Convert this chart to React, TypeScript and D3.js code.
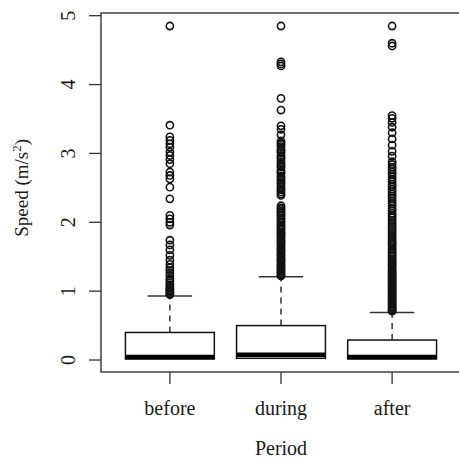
import React from 'react';
import * as d3 from 'd3';

// periods on the x axis
const periods = ['before', 'during', 'after'];

// box statistics per period (m/s²)
const q1 = [0.015, 0.025, 0.015];
const medians = [0.045, 0.075, 0.045];
const q3 = [0.4, 0.5, 0.29];
const upperWhisker = [0.93, 1.21, 0.69];

// outliers
const beforeOutliers = [
  4.85, 3.41, 3.24, 3.19, 3.14, 3.09, 3.02, 2.97, 2.91, 2.85, 2.73, 2.68, 2.63, 2.51, 2.34,
  2.1, 2.05, 2.0, 1.96, 1.74, 1.67, 1.6, 1.52, 1.45, 1.39, 1.34, 1.3, 1.26, 1.22, 1.18,
  1.15, 1.12, 1.09, 1.06, 1.04, 1.02, 1.0, 0.98, 0.96, 0.95,
];
const duringOutliers = [
  4.85, 4.33, 4.3, 4.27, 3.8, 3.63, 3.4, 3.35, 3.27,
  3.18, 3.15, 3.13, 3.1, 3.06, 3.04, 3.01, 2.97, 2.94, 2.92, 2.88, 2.85, 2.82, 2.8, 2.76,
  2.73, 2.71, 2.67, 2.64, 2.61, 2.58, 2.56, 2.52, 2.49, 2.47, 2.44, 2.41, 2.39,
  2.24, 2.21, 2.19, 2.16, 2.14, 2.11, 2.09, 2.06, 2.04, 2.01, 1.99, 1.96, 1.94, 1.91,
  1.89, 1.86, 1.84, 1.82, 1.79, 1.77, 1.74, 1.72, 1.7, 1.67, 1.65, 1.62, 1.6, 1.58,
  1.55, 1.53, 1.51, 1.48, 1.46, 1.44, 1.42, 1.39, 1.37, 1.35, 1.33, 1.31, 1.29, 1.27,
  1.25, 1.23, 1.22,
];
const afterOutliers = [
  4.85, 4.6, 4.56, 3.55, 3.51, 3.45, 3.38, 3.3, 3.21, 3.12, 3.03, 2.96,
  2.88, 2.84, 2.8, 2.77, 2.73, 2.7, 2.66, 2.62, 2.59, 2.55, 2.52, 2.48, 2.45, 2.41,
  2.38, 2.34, 2.31, 2.27, 2.24, 2.2, 2.17, 2.13, 2.1, 2.07, 2.03, 2.0, 1.97, 1.94,
  1.91, 1.88, 1.85, 1.82, 1.79, 1.76, 1.73, 1.7, 1.68, 1.65, 1.62, 1.6, 1.57, 1.55,
  1.52, 1.5, 1.47, 1.45, 1.43, 1.4, 1.38, 1.36, 1.33, 1.31, 1.29, 1.27, 1.25, 1.23,
  1.21, 1.19, 1.17, 1.15, 1.13, 1.11, 1.09, 1.07, 1.05, 1.03, 1.01, 0.99, 0.97, 0.95,
  0.93, 0.91, 0.89, 0.87, 0.85, 0.83, 0.81, 0.79, 0.77, 0.75, 0.73, 0.72, 0.71,
];
const outliers = [beforeOutliers, duringOutliers, afterOutliers];

const yTicks = [0, 1, 2, 3, 4, 5];

const W = 459;
const H = 464;
const font = '"Liberation Serif", "Times New Roman", serif';
const ink = '#1a1a1a';

export default function App() {
  // R-style extended ranges
  const x = d3.scaleLinear().domain([0.38, 3.62]).range([101, 461]);
  const y = d3.scaleLinear().domain([-0.174, 5.039]).range([372, 13]);
  const boxW = x(0.8) - x(0);
  const capW = boxW / 2;

  return (
    <svg width={W} height={H} style={{ position: 'absolute', left: 0, top: 0, background: '#fff' }}>
      {/* plot frame */}
      <rect x={x.range()[0]} y={y.range()[1]} width={x.range()[1] - x.range()[0]}
        height={y.range()[0] - y.range()[1]} fill="none" stroke="#333" strokeWidth={1.4} />

      {/* y axis */}
      {yTicks.map(t => (
        <g key={t}>
          <line x1={89} x2={101} y1={y(t)} y2={y(t)} stroke="#333" strokeWidth={1.3} />
          <text transform={`translate(75,${y(t)}) rotate(-90)`} textAnchor="middle"
            fontFamily={font} fontSize={20} fill={ink}>{t}</text>
        </g>
      ))}
      <text transform={`translate(28,${y(2.5)}) rotate(-90)`} textAnchor="middle"
        fontFamily={font} fontSize={19} fill={ink}>
        Speed (m/s<tspan fontSize={13} dy={-7}>2</tspan><tspan dy={7}>)</tspan>
      </text>

      {/* x axis */}
      {periods.map((p, i) => (
        <g key={p}>
          <line x1={x(i + 1)} x2={x(i + 1)} y1={372} y2={384} stroke="#333" strokeWidth={1.3} />
          <text x={x(i + 1)} y={415} textAnchor="middle" fontFamily={font} fontSize={20} fill={ink}>{p}</text>
        </g>
      ))}
      <text x={x(2)} y={455} textAnchor="middle" fontFamily={font} fontSize={20} fill={ink}>Period</text>

      {/* boxes */}
      {periods.map((p, i) => {
        const cx = x(i + 1);
        return (
          <g key={p}>
            <line x1={cx} x2={cx} y1={y(q3[i])} y2={y(upperWhisker[i])} stroke="#111"
              strokeWidth={1.3} strokeDasharray="6,5" />
            <line x1={cx - capW / 2} x2={cx + capW / 2} y1={y(upperWhisker[i])} y2={y(upperWhisker[i])}
              stroke="#333" strokeWidth={1.4} />
            <rect x={cx - boxW / 2} y={y(q3[i])} width={boxW} height={y(q1[i]) - y(q3[i])}
              fill="#fff" stroke="#111" strokeWidth={1.5} />
            <line x1={cx - boxW / 2} x2={cx + boxW / 2} y1={y(medians[i])} y2={y(medians[i])}
              stroke="#000" strokeWidth={4.5} />
            {outliers[i].map((v, j) => (
              <circle key={j} cx={cx} cy={y(v)} r={3.6} fill="none" stroke="#111" strokeWidth={1.6} />
            ))}
          </g>
        );
      })}
    </svg>
  );
}
